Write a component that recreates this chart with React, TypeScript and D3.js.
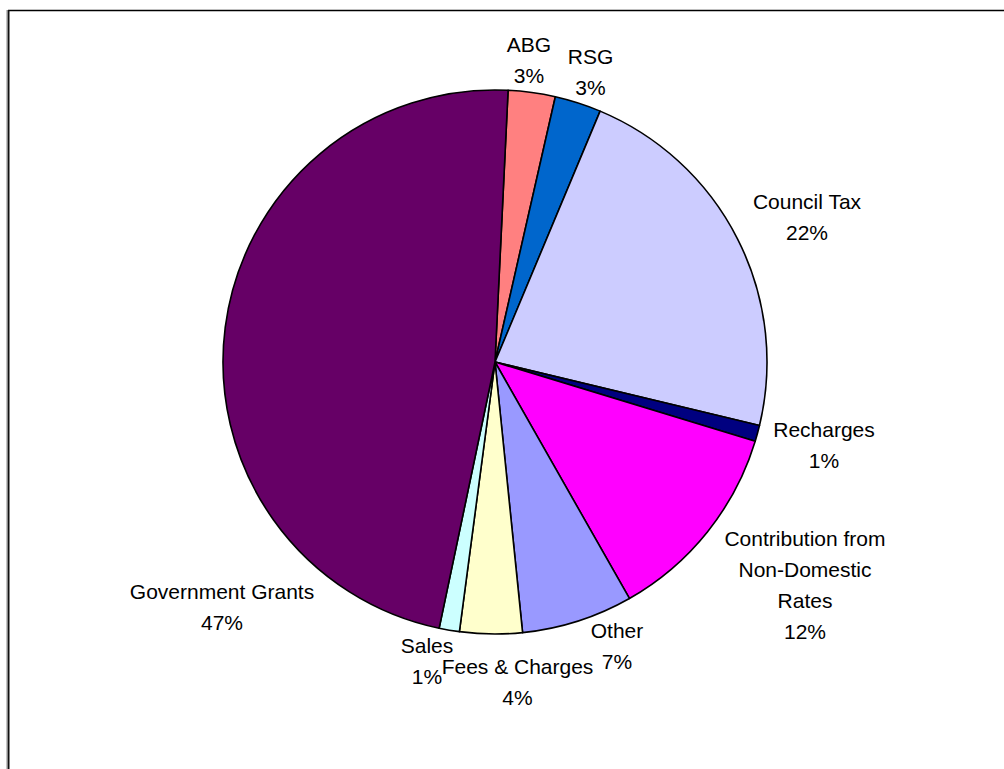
import React from "react";
import * as d3 from "d3";

const categories = ["ABG", "RSG", "Council Tax", "Recharges", "Contribution from Non-Domestic Rates", "Other", "Fees & Charges", "Sales", "Government Grants"];
const values = [2.79, 2.75, 22.4, 0.95, 12.05, 6.6, 3.7, 1.2, 47.4];
const labelLines = [["ABG"], ["RSG"], ["Council Tax"], ["Recharges"], ["Contribution from", "Non-Domestic", "Rates"], ["Other"], ["Fees & Charges"], ["Sales"], ["Government Grants"]];
const colors = ["#FF8080", "#0066CC", "#CCCCFF", "#000080", "#FF00FF", "#9999FF", "#FFFFCC", "#CCFFFF", "#660066"];

// label layout: offset of label centre / first baseline from pie centre
const labelOffsets: [number, number][] = [
  [34, -310], [95.5, -298.5], [312, -153], [329, 75], [310, 184], [122, 276], [22.5, 312], [-68, 291], [-273, 237],
];

const W = 1004, H = 769;
const cx = 495, cy = 362, R = 272;
const startDeg = 2.76;
const lineH = 31;

export default function App() {
  const total = d3.sum(values);
  const pie = d3.pie<number>().sort(null).value((d) => d)
    .startAngle((startDeg * Math.PI) / 180)
    .endAngle((startDeg * Math.PI) / 180 + 2 * Math.PI);
  const arcs = pie(values);
  const arc = d3.arc<d3.PieArcDatum<number>>().innerRadius(0).outerRadius(R);
  // draw label order so that Fees label is on top of Sales
  const labelOrder = [0, 1, 2, 3, 4, 5, 7, 6, 8];
  return (
    <svg width={W} height={H} style={{ position: "absolute", left: 0, top: 0 }} fontFamily="'Liberation Sans', Arial, sans-serif">
      <rect x={0} y={0} width={W} height={H} fill="#fff" />
      <line x1={8} y1={10.5} x2={W} y2={10.5} stroke="#000" strokeWidth={1.5} />
      <line x1={8.5} y1={10} x2={8.5} y2={H} stroke="#111" strokeWidth={2} />
      <line x1={7} y1={10} x2={7} y2={H} stroke="#888" strokeWidth={1} />
      <g transform={`translate(${cx},${cy})`}>
        {arcs.map((a, i) => (
          <path key={categories[i]} d={arc(a) || ""} fill={colors[i]} stroke="#000" strokeWidth={1.6} strokeLinejoin="round" />
        ))}
        {labelOrder.map((i) => {
          const [dx, dy] = labelOffsets[i];
          const pct = Math.round((values[i] / total) * 100) + "%";
          const lines = [...labelLines[i], pct];
          return (
            <text key={"l" + i} x={dx} y={dy} textAnchor="middle" fontSize={21} fill="#000">
              {lines.map((t, j) => (
                <tspan key={j} x={dx} y={dy + j * lineH}>{t}</tspan>
              ))}
            </text>
          );
        })}
      </g>
    </svg>
  );
}
